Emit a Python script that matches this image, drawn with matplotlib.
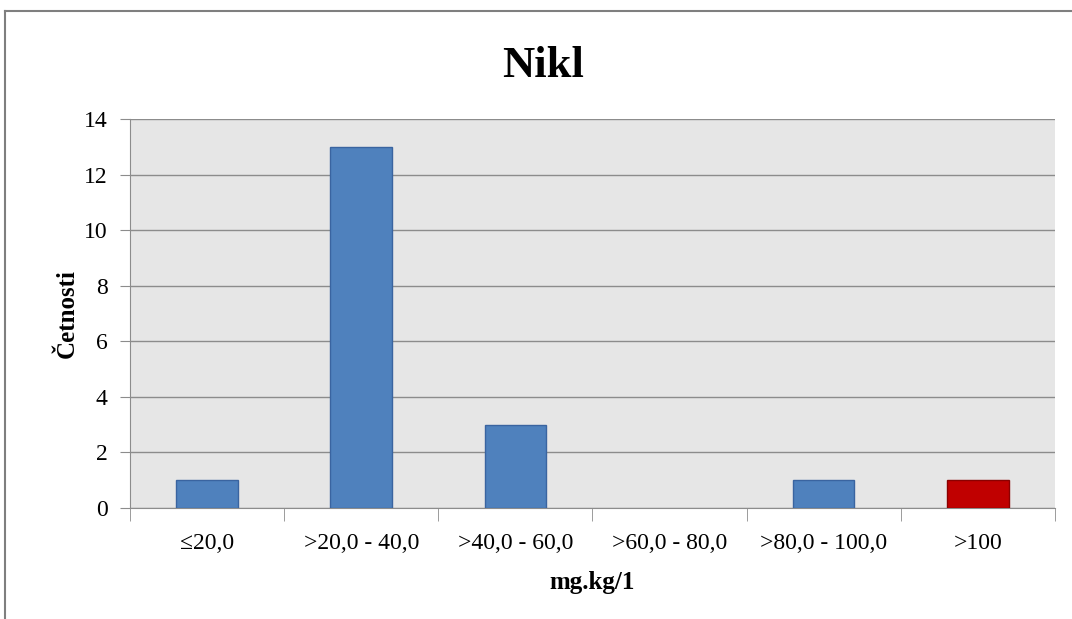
import matplotlib
matplotlib.use('Agg')
import matplotlib.pyplot as plt
from matplotlib.lines import Line2D

# data
categories = ['≤20,0', '>20,0 - 40,0', '>40,0 - 60,0', '>60,0 - 80,0', '>80,0 - 100,0', '>100']
counts = [1, 13, 3, 0, 1, 1]
colors = ['#4f81bd', '#4f81bd', '#4f81bd', '#4f81bd', '#4f81bd', '#c00000']
edges = ['#3a64a0', '#3a64a0', '#3a64a0', '#3a64a0', '#3a64a0', '#8b0000']

plt.rcParams['font.family'] = ['Liberation Serif', 'DejaVu Serif']

fig = plt.figure(figsize=(10.72, 6.19), dpi=100)
ax = fig.add_axes([0.1213, 0.1793, 0.8627, 0.6285])

x = list(range(len(categories)))
# no outline on empty bins
lws = [1 if c > 0 else 0 for c in counts]
ax.bar(x, counts, width=0.4, color=colors, edgecolor=edges, linewidth=lws, zorder=3)

ax.set_facecolor('#e6e6e6')
ax.set_xlim(-0.5, len(categories) - 0.5)
ax.set_ylim(0, 14)
ax.set_yticks(range(0, 15, 2))
ax.yaxis.grid(True, color='#8c8c8c', linewidth=1, zorder=0)
ax.tick_params(axis='y', labelsize=17, length=7, color='#8c8c8c', pad=9)

# category labels centred, tick marks at the boundaries
ax.set_xticks(x)
ax.set_xticklabels(categories, fontsize=17)
ax.tick_params(axis='x', which='major', length=0, pad=18)
ax.set_xticks([i - 0.5 for i in range(len(categories) + 1)], minor=True)
ax.tick_params(axis='x', which='minor', length=9, color='#8c8c8c')

for side in ['top', 'right']:
    ax.spines[side].set_visible(False)
ax.spines['left'].set_color('#8c8c8c')
ax.spines['bottom'].set_color('#8c8c8c')

fig.text(0.5065, 1 - 77 / 619, 'Nikl', fontsize=32, fontweight='bold', ha='center', va='baseline')
ax.set_ylabel('Četnosti', fontsize=18, fontweight='bold', labelpad=4)
ax.set_xlabel('mg.kg/1', fontsize=18, fontweight='bold', labelpad=12)

# chart frame (left and top edges visible)
fig.add_artist(Line2D([0.0045, 0.0045], [0.0, 0.982], color='#7f7f7f', linewidth=1.5))
fig.add_artist(Line2D([0.0045, 1.0], [0.982, 0.982], color='#7f7f7f', linewidth=1.5))

fig.savefig('out.png', dpi=100)
